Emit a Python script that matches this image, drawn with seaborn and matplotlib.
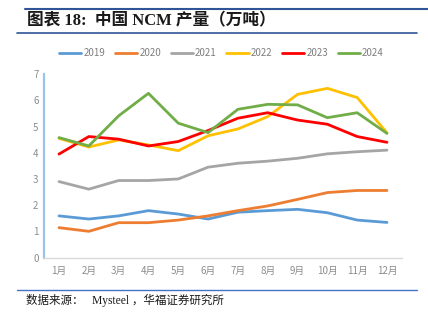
import matplotlib
matplotlib.use("Agg")
import matplotlib.pyplot as plt
import seaborn as sns
import pandas as pd
from matplotlib.lines import Line2D

months = ["1月", "2月", "3月", "4月", "5月", "6月", "7月", "8月", "9月", "10月", "11月", "12月"]
years = ["2019", "2020", "2021", "2022", "2023", "2024"]
v2019 = [1.59, 1.47, 1.59, 1.79, 1.66, 1.47, 1.73, 1.79, 1.84, 1.71, 1.43, 1.34]
v2020 = [1.14, 1.00, 1.33, 1.33, 1.43, 1.59, 1.79, 1.97, 2.22, 2.48, 2.56, 2.56]
v2021 = [2.90, 2.61, 2.94, 2.94, 3.00, 3.45, 3.60, 3.68, 3.79, 3.96, 4.04, 4.10]
v2022 = [4.55, 4.22, 4.49, 4.30, 4.08, 4.65, 4.91, 5.38, 6.23, 6.46, 6.11, 4.76]
v2023 = [3.95, 4.62, 4.52, 4.26, 4.43, 4.85, 5.32, 5.53, 5.25, 5.09, 4.62, 4.40]
v2024 = [4.58, 4.26, 5.41, 6.27, 5.13, 4.77, 5.66, 5.85, 5.83, 5.34, 5.53, 4.74]
colors = ["#5B9BD5", "#ED7D31", "#A5A5A5", "#FFC000", "#FF0000", "#70AD47"]

series = [v2019, v2020, v2021, v2022, v2023, v2024]
rows = []
for y, vals in zip(years, series):
    for m, v in zip(months, vals):
        rows.append({"month": m, "year": y, "value": v})
df = pd.DataFrame(rows)
df["month"] = pd.Categorical(df["month"], categories=months, ordered=True)

sns.set_theme(style="white")
plt.rcParams["font.family"] = ["Noto Sans CJK SC", "DejaVu Sans"]

fig = plt.figure(figsize=(4.28, 3.27), dpi=100)
ax = fig.add_axes([0.103, 0.2125, 0.836, 0.5605])
palette = dict(zip(years, colors))
sns.lineplot(data=df, x="month", y="value", hue="year", palette=palette,
             linewidth=2.0, ax=ax, legend=False, sort=False)

ax.set_ylim(0, 7)
ax.set_xlim(-0.5, len(months) - 0.5)
ax.set_yticks(range(0, 8))
ax.set_xlabel("")
ax.set_ylabel("")
for s in ["top", "right"]:
    ax.spines[s].set_visible(False)
ax.spines["left"].set_color("#9DC3E6")
ax.spines["left"].set_linewidth(1.6)
ax.spines["bottom"].set_color("#D9D9D9")
ax.spines["bottom"].set_linewidth(1.0)
ax.tick_params(axis="both", colors="#8C8C8C", labelsize=7, length=0, pad=6)
ax.tick_params(axis="y", pad=4)
ax.grid(False)

# legend
handles = [Line2D([0], [0], color=c, lw=2.0) for c in colors]
fig.legend(handles, years, loc="center", bbox_to_anchor=(0.5175, 1 - 53 / 327), ncol=6,
           frameon=False, fontsize=7, handlelength=2.3, handletextpad=0.2,
           columnspacing=1.0, labelcolor="#7F7F7F")

# title & decorative lines
fig.add_artist(Line2D([25 / 428, 1.0], [1 - 9 / 327] * 2, color="#2F5597", lw=1.5))
fig.text(27 / 428, 1 - 21 / 327, "图表 18:  中国 NCM 产量（万吨）", fontsize=12,
         fontweight="bold", va="center", ha="left", color="#1a1a1a",
         family=["Liberation Serif", "Noto Sans CJK SC"])
fig.add_artist(Line2D([17 / 428, 417 / 428], [1 - 32.5 / 327] * 2, color="#2F5597", lw=1.2))
fig.add_artist(Line2D([17 / 428, 417 / 428], [1 - 289.5 / 327] * 2, color="#4472C4", lw=1.0))
fig.text(26 / 428, 1 - 300 / 327, "数据来源：   Mysteel ，华福证券研究所", fontsize=8.3,
         va="center", ha="left", color="#1a1a1a",
         family=["Liberation Serif", "Noto Sans CJK SC"])

fig.savefig("out.png", dpi=100)
